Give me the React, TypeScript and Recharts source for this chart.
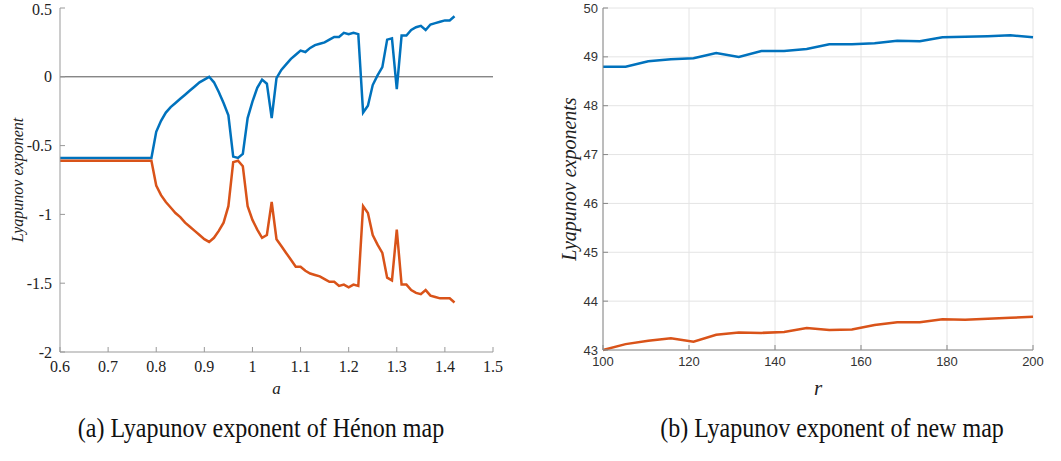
import React from "react";
import {
  CartesianGrid,
  Line,
  LineChart,
  ReferenceLine,
  XAxis,
  YAxis,
} from "recharts";

// Hénon map, parameter a
const henonA = [
  0.6, 0.61, 0.62, 0.63, 0.64, 0.65, 0.66, 0.67, 0.68, 0.69,
  0.7, 0.71, 0.72, 0.73, 0.74, 0.75, 0.76, 0.77, 0.78, 0.79,
  0.8, 0.81, 0.82, 0.83, 0.84, 0.85, 0.86, 0.87, 0.88, 0.89,
  0.9, 0.91, 0.92, 0.93, 0.94, 0.95, 0.96, 0.97, 0.98, 0.99,
  1.0, 1.01, 1.02, 1.03, 1.04, 1.05, 1.06, 1.07, 1.08, 1.09,
  1.1, 1.11, 1.12, 1.13, 1.14, 1.15, 1.16, 1.17, 1.18, 1.19,
  1.2, 1.21, 1.22, 1.23, 1.24, 1.25, 1.26, 1.27, 1.28, 1.29,
  1.3, 1.31, 1.32, 1.33, 1.34, 1.35, 1.36, 1.37, 1.38, 1.39,
  1.4, 1.41, 1.42,
];

const henonL1 = [
  -0.59, -0.59, -0.59, -0.59, -0.59, -0.59, -0.59, -0.59, -0.59, -0.59,
  -0.59, -0.59, -0.59, -0.59, -0.59, -0.59, -0.59, -0.59, -0.59, -0.59,
  -0.4, -0.32, -0.26, -0.22, -0.19, -0.16, -0.13, -0.1, -0.07, -0.04,
  -0.02, 0.0, -0.04, -0.11, -0.19, -0.28, -0.58, -0.59, -0.56, -0.3,
  -0.18, -0.08, -0.02, -0.05, -0.3, -0.01, 0.05, 0.09, 0.13, 0.16,
  0.19, 0.18, 0.21, 0.23, 0.24, 0.25, 0.27, 0.29, 0.29, 0.32,
  0.31, 0.32, 0.31, -0.26, -0.21, -0.06, 0.01, 0.07, 0.27, 0.28,
  -0.09, 0.3, 0.3, 0.34, 0.36, 0.37, 0.34, 0.38, 0.39, 0.4,
  0.41, 0.41, 0.44,
];

const henonL2 = [
  -0.61, -0.61, -0.61, -0.61, -0.61, -0.61, -0.61, -0.61, -0.61, -0.61,
  -0.61, -0.61, -0.61, -0.61, -0.61, -0.61, -0.61, -0.61, -0.61, -0.61,
  -0.79, -0.86, -0.91, -0.95, -0.99, -1.02, -1.06, -1.09, -1.12, -1.15,
  -1.18, -1.2, -1.17, -1.12, -1.06, -0.94, -0.62, -0.61, -0.65, -0.94,
  -1.04, -1.11, -1.17, -1.15, -0.91, -1.18, -1.23, -1.28, -1.33, -1.38,
  -1.38, -1.41, -1.43, -1.44, -1.45, -1.47, -1.49, -1.49, -1.52, -1.51,
  -1.53, -1.51, -1.52, -0.94, -0.99, -1.15, -1.22, -1.28, -1.46, -1.48,
  -1.11, -1.51, -1.51, -1.55, -1.57, -1.58, -1.55, -1.59, -1.6, -1.61,
  -1.61, -1.61, -1.64,
];

const henonXTicks = [0.6, 0.7, 0.8, 0.9, 1, 1.1, 1.2, 1.3, 1.4, 1.5];
const henonYTicks = [-2, -1.5, -1, -0.5, 0, 0.5];

// new map, parameter r
const newMapR = [
  100, 105.26, 110.53, 115.79, 121.05, 126.32, 131.58, 136.84, 142.11, 147.37,
  152.63, 157.89, 163.16, 168.42, 173.68, 178.95, 184.21, 189.47, 194.74, 200,
];

const newMapL1 = [
  48.8, 48.8, 48.91, 48.95, 48.97, 49.08, 49.0, 49.12, 49.12, 49.16,
  49.26, 49.26, 49.28, 49.33, 49.32, 49.4, 49.41, 49.42, 49.44, 49.4,
];

const newMapL2 = [
  43.0, 43.12, 43.19, 43.24, 43.17, 43.31, 43.36, 43.35, 43.37, 43.45,
  43.41, 43.42, 43.51, 43.57, 43.57, 43.63, 43.62, 43.64, 43.66, 43.68,
];

const newMapXTicks = [100, 120, 140, 160, 180, 200];
const newMapYTicks = [43, 44, 45, 46, 47, 48, 49, 50];

const henonData = henonA.map((a, i) => ({ a, l1: henonL1[i], l2: henonL2[i] }));
const newMapData = newMapR.map((r, i) => ({ r, l1: newMapL1[i], l2: newMapL2[i] }));

const BLUE = "#0072BD";
const ORANGE = "#D95319";
const SERIF = "'Liberation Serif', 'Times New Roman', serif";
const SANS = "'Liberation Sans', Arial, sans-serif";

const yTitle = (text: string, cx: number, size: number) => (props: any) => {
  const vb = props.viewBox;
  const cy = vb.y + vb.height / 2;
  return (
    <text
      x={cx}
      y={cy}
      transform={`rotate(-90 ${cx} ${cy})`}
      textAnchor="middle"
      dominantBaseline="central"
      fontFamily={SERIF}
      fontStyle="italic"
      fontSize={size}
      fill="#222"
    >
      {text}
    </text>
  );
};

const xTitle = (text: string, cy: number, size: number) => (props: any) => {
  const vb = props.viewBox;
  return (
    <text
      x={vb.x + vb.width / 2}
      y={cy}
      textAnchor="middle"
      dominantBaseline="central"
      fontFamily={SERIF}
      fontStyle="italic"
      fontSize={size}
      fill="#222"
    >
      {text}
    </text>
  );
};

const HenonChart = () => (
  <LineChart
    width={520}
    height={400}
    data={henonData}
    margin={{ top: 8, right: 27, bottom: 0, left: 0 }}
  >
    <XAxis
      dataKey="a"
      type="number"
      domain={[0.6, 1.5]}
      ticks={henonXTicks}
      height={48}
      stroke="#999"
      tickSize={-5}
      tickMargin={14}
      tick={{ fill: "#222", fontSize: 16, fontFamily: SERIF }}
      label={xTitle("a", 388, 17)}
    />
    <XAxis
      xAxisId="top"
      dataKey="a"
      type="number"
      orientation="top"
      domain={[0.6, 1.5]}
      ticks={henonXTicks}
      height={0}
      stroke="#999"
      tickSize={-5}
      tick={false}
    />
    <YAxis
      type="number"
      domain={[-2, 0.5]}
      ticks={henonYTicks}
      width={60}
      stroke="#999"
      tickSize={-5}
      tickMargin={13}
      tick={{ fill: "#222", fontSize: 16, fontFamily: SERIF }}
      label={yTitle("Lyapunov exponent", 17, 16)}
    />
    <YAxis
      yAxisId="right"
      type="number"
      orientation="right"
      domain={[-2, 0.5]}
      ticks={henonYTicks}
      width={0}
      stroke="#999"
      tickSize={-5}
      tick={false}
    />
    <ReferenceLine y={0} stroke="#555" strokeWidth={1} />
    <Line
      dataKey="l1"
      type="linear"
      stroke={BLUE}
      strokeWidth={2.5}
      dot={false}
      isAnimationActive={false}
    />
    <Line
      dataKey="l2"
      type="linear"
      stroke={ORANGE}
      strokeWidth={2.5}
      dot={false}
      isAnimationActive={false}
    />
  </LineChart>
);

const NewMapChart = () => (
  <LineChart
    width={531}
    height={400}
    data={newMapData}
    margin={{ top: 8, right: 28, bottom: 0, left: 0 }}
  >
    <CartesianGrid stroke="#e4e4e4" />
    <XAxis
      dataKey="r"
      type="number"
      domain={[100, 200]}
      ticks={newMapXTicks}
      height={50}
      stroke="#888"
      tickSize={-5}
      tickMargin={12}
      tick={{ fill: "#333", fontSize: 13, fontFamily: SANS }}
      label={xTitle("r", 388, 21)}
    />
    <XAxis
      xAxisId="top"
      dataKey="r"
      type="number"
      orientation="top"
      domain={[100, 200]}
      ticks={newMapXTicks}
      height={0}
      stroke="#888"
      tickSize={-5}
      tick={false}
    />
    <YAxis
      type="number"
      domain={[43, 50]}
      ticks={newMapYTicks}
      width={73}
      stroke="#888"
      tickSize={-5}
      tickMargin={10}
      tick={{ fill: "#333", fontSize: 13, fontFamily: SANS }}
      label={yTitle("Lyapunov exponents", 39, 20)}
    />
    <YAxis
      yAxisId="right"
      type="number"
      orientation="right"
      domain={[43, 50]}
      ticks={newMapYTicks}
      width={0}
      stroke="#888"
      tickSize={-5}
      tick={false}
    />
    <Line
      dataKey="l1"
      type="linear"
      stroke={BLUE}
      strokeWidth={2.5}
      dot={false}
      isAnimationActive={false}
    />
    <Line
      dataKey="l2"
      type="linear"
      stroke={ORANGE}
      strokeWidth={2.5}
      dot={false}
      isAnimationActive={false}
    />
  </LineChart>
);

// captions set in a tall, slightly condensed serif
const captionStyle: React.CSSProperties = {
  position: "absolute",
  top: 412,
  width: 500,
  textAlign: "center",
  fontFamily: SERIF,
  fontSize: 27,
  lineHeight: "32px",
  color: "#111",
  whiteSpace: "nowrap",
  transform: "scaleX(0.89)",
  transformOrigin: "center",
};

export default function App() {
  return (
    <div
      style={{
        position: "absolute",
        left: 0,
        top: 0,
        width: 1061,
        height: 461,
        background: "#fff",
        overflow: "hidden",
      }}
    >
      <div style={{ position: "absolute", left: 0, top: 0 }}>
        <HenonChart />
      </div>
      <div style={{ position: "absolute", left: 530, top: 0 }}>
        <NewMapChart />
      </div>
      <div style={{ ...captionStyle, left: 261 - 250 }}>
        (a) Lyapunov exponent of Hénon map
      </div>
      <div style={{ ...captionStyle, left: 832 - 250 }}>
        (b) Lyapunov exponent of new map
      </div>
    </div>
  );
}
